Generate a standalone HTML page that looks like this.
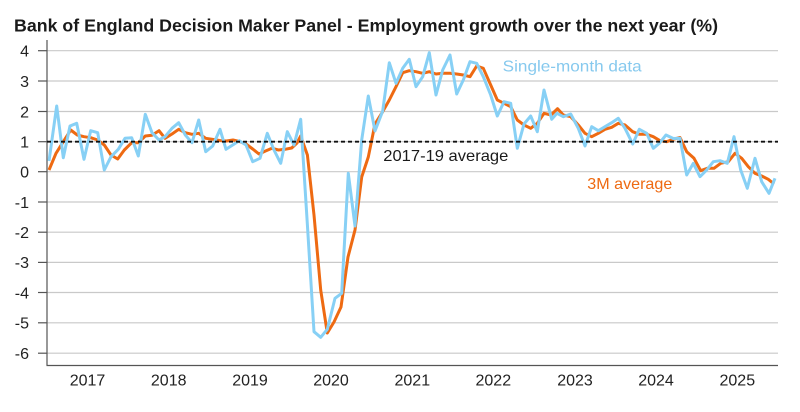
<!DOCTYPE html>
<html><head><meta charset="utf-8"><style>
html,body{margin:0;padding:0;background:#fff;}
svg{display:block;font-family:"Liberation Sans",Arial,sans-serif;}
</style></head><body>
<svg width="800" height="412" viewBox="0 0 800 412" xmlns="http://www.w3.org/2000/svg">
<rect width="800" height="412" fill="#fff"/>
<text x="14" y="31.5" font-size="17.5" font-weight="bold" fill="#1a1a1a" textLength="704" lengthAdjust="spacingAndGlyphs">Bank of England Decision Maker Panel - Employment growth over the next year (%)</text>
<g stroke="#c9c9c9" stroke-width="1.2">
<line x1="47" x2="778" y1="50.7" y2="50.7"/>
<line x1="47" x2="778" y1="81" y2="81"/>
<line x1="47" x2="778" y1="111.5" y2="111.5"/>
<line x1="47" x2="778" y1="141.7" y2="141.7"/>
<line x1="47" x2="778" y1="171.7" y2="171.7"/>
<line x1="47" x2="778" y1="202" y2="202"/>
<line x1="47" x2="778" y1="232.2" y2="232.2"/>
<line x1="47" x2="778" y1="262.4" y2="262.4"/>
<line x1="47" x2="778" y1="292.5" y2="292.5"/>
<line x1="47" x2="778" y1="322.8" y2="322.8"/>
<line x1="47" x2="778" y1="353.2" y2="353.2"/>
</g>
<g stroke="#555" stroke-width="1.2">
<line x1="47" x2="47" y1="40" y2="365.5"/>
<line x1="46.5" x2="778" y1="365.5" y2="365.5"/>
<line x1="38" x2="47" y1="50.7" y2="50.7"/>
<line x1="38" x2="47" y1="81" y2="81"/>
<line x1="38" x2="47" y1="111.5" y2="111.5"/>
<line x1="38" x2="47" y1="141.7" y2="141.7"/>
<line x1="38" x2="47" y1="171.7" y2="171.7"/>
<line x1="38" x2="47" y1="202" y2="202"/>
<line x1="38" x2="47" y1="232.2" y2="232.2"/>
<line x1="38" x2="47" y1="262.4" y2="262.4"/>
<line x1="38" x2="47" y1="292.5" y2="292.5"/>
<line x1="38" x2="47" y1="322.8" y2="322.8"/>
<line x1="38" x2="47" y1="353.2" y2="353.2"/>
</g>
<g font-size="16" fill="#222" text-anchor="end">
<text x="29" y="56.5">4</text>
<text x="29" y="86.8">3</text>
<text x="29" y="117.3">2</text>
<text x="29" y="147.5">1</text>
<text x="29" y="177.5">0</text>
<text x="29" y="207.8">-1</text>
<text x="29" y="238">-2</text>
<text x="29" y="268.2">-3</text>
<text x="29" y="298.3">-4</text>
<text x="29" y="328.6">-5</text>
<text x="29" y="359">-6</text>
</g>
<g font-size="16" fill="#222" text-anchor="middle">
<text x="87.5" y="385.7">2017</text>
<text x="168.7" y="385.7">2018</text>
<text x="250" y="385.7">2019</text>
<text x="331" y="385.7">2020</text>
<text x="412.3" y="385.7">2021</text>
<text x="493.3" y="385.7">2022</text>
<text x="575" y="385.7">2023</text>
<text x="656" y="385.7">2024</text>
<text x="737.3" y="385.7">2025</text>
</g>
<polyline fill="none" stroke="#ee6a12" stroke-width="3" stroke-linejoin="round" points="49,170 56,153.3 63.3,141.7 70.7,130 77.3,135 84,136.7 90.7,137.7 97.7,140 104.3,145 111,155 117.7,159 124.3,150 131.7,142.7 138.3,142.7 145.3,136 152,135.3 159,130.7 165,138.3 172,134 178.7,129.3 185.3,132.7 192,134.3 198.7,133.3 205.7,138.3 212.7,139.3 219.5,140.5 226.5,141 233,140 239.3,141.5 246,144 252.7,149 259,154 265.5,151 272,148.3 278.5,150 285,149.3 291.7,148 297,143 300.7,136 307.4,155 314,215 320.7,290 327.3,333 334,322 341,307 348,257 355,230 361.7,177 368.3,157 375,124 382.7,111.7 389.3,100 396,86.7 402.7,72.7 409.3,70.7 416,71.7 422.7,73.3 429.3,71.7 436,74 442.7,73.3 450,73.3 456.7,74 463.3,75 470,76.7 476.7,66 483.3,68.3 490.7,85 497.3,100 504,103.3 510.7,106.7 517.3,120 524,125 530.7,128.3 537.3,123.3 544,113.3 551,115 557.5,108.7 563.3,115 570.7,116.7 578.3,125 585,133.3 591.7,136.7 598.3,133.3 605,129.3 611.7,127.3 618.3,123.3 625,125 632.7,131.7 639.3,134.3 646.7,134.3 653.3,136.7 660,140.7 666.7,141.7 673.3,139.3 680,137.5 686.7,151.7 694,158.3 700.7,170.7 707.3,168.3 714,168.3 720.7,163.3 728.3,161.7 735,153.3 741.7,158.3 748.3,166.7 755,173.3 761.7,176 768.3,179.3 774,184"/>
<polyline fill="none" stroke="#87d0f5" stroke-width="3" stroke-linejoin="round" points="49,161 56.7,106 63.3,157.7 70,126 76.7,123.3 84,159.3 90.7,130.7 97.7,132.7 104.3,170 111,156.7 118.3,149.3 125,138.3 131.7,137.7 138.3,156 145.3,114.3 152,132.7 159,140 165,136.7 172,128.3 178.7,122.7 185.3,135 192,142.7 198.7,120 205.7,151.7 212.7,146 220,129.3 226,149.3 232.7,145 239.3,140.7 246,145 252.7,161.7 260,158.3 267.3,133.3 274,150 280.7,163.3 287.3,131.7 294,145 300.7,119.3 307.4,225 314,331.7 320.7,337.3 327.3,329.3 335,298.3 341.7,293.3 348.3,173.3 355,226 361.7,140 368.3,96 375,131 382.7,111 389.3,62.7 396,83.3 402.7,68.3 409.3,59.3 416,86.7 422.7,76.7 429.3,52.7 436,95 442.7,70 450,55 456.7,94 463.3,80 470,61.7 476.7,63.3 483.3,76.7 490.7,95 497.3,116 504,101.7 510.7,103.3 517.3,148.3 524,124 530.7,116 537.3,131.7 544,90 551.7,119.3 557,113.3 563.3,116.7 570.7,114 578.3,128.3 585,146 591.7,126.7 598.3,130.7 605,126.7 611.7,122.7 618.3,118.3 625,128.3 632.7,144 639.3,129.3 646.7,133.3 653.3,148.3 659.3,143.3 666,135 673.3,138.5 680,138.3 686.7,175 693.3,163.3 700,176.7 706.7,170 713.3,161.7 720,160.7 727.3,163.3 734,136.7 740.7,170 747.3,188.3 755,158.3 761.7,181.7 769,193.3 775,178.3"/>
<line x1="47" x2="778" y1="141.7" y2="141.7" stroke="#111" stroke-width="1.8" stroke-dasharray="4,3"/>
<text x="502.7" y="71.7" font-size="16" fill="#86c9ee" textLength="139" lengthAdjust="spacingAndGlyphs">Single-month data</text>
<text x="383.3" y="160.8" font-size="16" fill="#1a1a1a" textLength="125" lengthAdjust="spacingAndGlyphs">2017-19 average</text>
<text x="587.3" y="189" font-size="16" fill="#ee6a12" textLength="85" lengthAdjust="spacingAndGlyphs">3M average</text>
</svg>
</body></html>
